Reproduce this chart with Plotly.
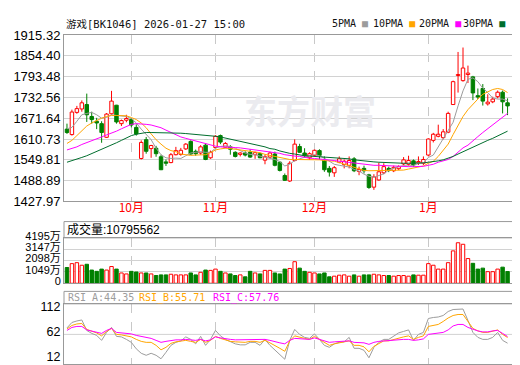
import plotly.graph_objects as go

W, H = 520, 365

# ---------------- data ----------------
month_idx = [13, 30, 50, 73]
month_labels = ['10月', '11月', '12月', '1月']

opens = [1640, 1624, 1689, 1699, 1712, 1677, 1663, 1656, 1616, 1685,
         1710, 1656, 1666, 1668, 1645, 1554, 1609, 1583, 1584, 1559,
         1544, 1542, 1565, 1566, 1582, 1604, 1575, 1570, 1593, 1556,
         1586, 1621, 1587, 1588, 1572, 1566, 1570, 1572, 1565, 1568,
         1549, 1558, 1567, 1543, 1504, 1488, 1548, 1589, 1570, 1556,
         1563, 1577, 1549, 1525, 1512, 1543, 1536, 1534, 1553, 1516,
         1525, 1506, 1470, 1491, 1512, 1525, 1518, 1524, 1538, 1537,
         1547, 1541, 1540, 1564, 1607, 1619, 1615, 1631, 1712, 1797,
         1782, 1800, 1793, 1738, 1759, 1714, 1720, 1735, 1748, 1717]
closes = [1630, 1690, 1700, 1717, 1682, 1668, 1658, 1630, 1684, 1722,
          1661, 1665, 1671, 1652, 1626, 1601, 1575, 1592, 1568, 1521,
          1540, 1565, 1577, 1578, 1596, 1567, 1568, 1588, 1551, 1572,
          1619, 1602, 1598, 1581, 1560, 1570, 1564, 1558, 1571, 1556,
          1559, 1570, 1534, 1519, 1490, 1540, 1596, 1572, 1562, 1568,
          1578, 1563, 1521, 1514, 1527, 1553, 1546, 1548, 1518, 1522,
          1518, 1469, 1500, 1515, 1530, 1519, 1528, 1530, 1550, 1548,
          1535, 1545, 1551, 1611, 1625, 1625, 1632, 1686, 1779, 1800,
          1819, 1804, 1746, 1734, 1722, 1719, 1728, 1748, 1720, 1708]
highs = [1656, 1697, 1708, 1724, 1744, 1691, 1673, 1663, 1687, 1752,
         1711, 1668, 1682, 1672, 1654, 1607, 1617, 1594, 1591, 1565,
         1551, 1570, 1588, 1585, 1599, 1607, 1580, 1593, 1598, 1577,
         1622, 1624, 1602, 1593, 1575, 1572, 1575, 1581, 1574, 1571,
         1565, 1574, 1574, 1546, 1510, 1546, 1610, 1597, 1584, 1572,
         1580, 1581, 1560, 1532, 1532, 1560, 1551, 1560, 1558, 1530,
         1533, 1509, 1508, 1542, 1540, 1530, 1533, 1534, 1558, 1562,
         1551, 1560, 1560, 1613, 1629, 1653, 1640, 1691, 1782, 1866,
         1879, 1826, 1796, 1759, 1772, 1742, 1735, 1753, 1753, 1730]
lows = [1626, 1621, 1685, 1691, 1661, 1656, 1640, 1600, 1614, 1682,
        1656, 1649, 1660, 1645, 1621, 1551, 1568, 1556, 1559, 1520,
        1532, 1540, 1563, 1562, 1579, 1565, 1562, 1565, 1549, 1553,
        1584, 1596, 1584, 1565, 1557, 1560, 1560, 1556, 1553, 1555,
        1537, 1555, 1531, 1516, 1488, 1485, 1545, 1570, 1556, 1550,
        1560, 1551, 1515, 1501, 1500, 1540, 1525, 1525, 1514, 1505,
        1510, 1465, 1462, 1489, 1508, 1514, 1514, 1520, 1534, 1533,
        1530, 1535, 1535, 1560, 1601, 1616, 1610, 1628, 1711, 1747,
        1779, 1775, 1725, 1728, 1709, 1709, 1716, 1730, 1686, 1681]

ma5 = [1641, 1645, 1663, 1682, 1686, 1689, 1682, 1672, 1674, 1682,
       1680, 1679, 1677, 1671, 1658, 1640, 1626, 1609, 1584, 1565,
       1556, 1554, 1555, 1554, 1562, 1570, 1572, 1574, 1572, 1572,
       1584, 1589, 1591, 1589, 1584, 1576, 1570, 1566, 1565, 1561,
       1558, 1556, 1551, 1545, 1532, 1537, 1548, 1553, 1558, 1562,
       1565, 1562, 1555, 1545, 1537, 1534, 1532, 1529, 1522, 1517,
       1508, 1502, 1499, 1504, 1509, 1520, 1526, 1530, 1533, 1532,
       1534, 1539, 1541, 1557, 1564, 1588, 1611, 1632, 1660, 1708,
       1752, 1786, 1790, 1779, 1760, 1747, 1731, 1728, 1728, 1723]
ma10 = [1598, 1607, 1621, 1635, 1649, 1658, 1666, 1672, 1677, 1680,
        1680, 1679, 1679, 1674, 1668, 1658, 1644, 1626, 1609, 1596,
        1584, 1577, 1574, 1567, 1564, 1563, 1564, 1565, 1565, 1571,
        1579, 1582, 1584, 1583, 1581, 1579, 1578, 1576, 1574, 1571,
        1566, 1563, 1560, 1556, 1553, 1551, 1551, 1551, 1551, 1551,
        1551, 1550, 1548, 1547, 1546, 1542, 1537, 1533, 1527, 1523,
        1519, 1518, 1518, 1518, 1518, 1518, 1518, 1519, 1520, 1523,
        1526, 1529, 1532, 1540, 1546, 1560, 1579, 1596, 1624, 1652,
        1677, 1697, 1714, 1728, 1742, 1750, 1756, 1759, 1756, 1747]
ma20 = [1579, 1583, 1588, 1595, 1600, 1606, 1611, 1617, 1623, 1628,
        1634, 1641, 1648, 1654, 1656, 1656, 1654, 1652, 1649, 1644,
        1637, 1630, 1624, 1617, 1613, 1609, 1604, 1600, 1596, 1593,
        1590, 1588, 1588, 1587, 1586, 1585, 1583, 1582, 1581, 1579,
        1577, 1574, 1572, 1569, 1565, 1562, 1561, 1560, 1557, 1555,
        1554, 1553, 1551, 1550, 1548, 1546, 1544, 1543, 1541, 1539,
        1537, 1536, 1534, 1534, 1533, 1533, 1532, 1530, 1530, 1530,
        1530, 1530, 1531, 1534, 1537, 1543, 1546, 1551, 1560, 1574,
        1585, 1593, 1607, 1618, 1630, 1641, 1652, 1663, 1674, 1686]
ma30 = [1543, 1547, 1551, 1557, 1562, 1568, 1575, 1581, 1586, 1593,
        1600, 1607, 1614, 1621, 1625, 1628, 1630, 1630, 1630, 1630,
        1630, 1630, 1630, 1628, 1627, 1626, 1625, 1624, 1622, 1621,
        1619, 1617, 1614, 1610, 1607, 1604, 1602, 1597, 1595, 1591,
        1588, 1583, 1581, 1576, 1572, 1569, 1567, 1564, 1562, 1561,
        1560, 1558, 1557, 1557, 1556, 1555, 1555, 1553, 1550, 1548,
        1547, 1546, 1544, 1543, 1542, 1541, 1541, 1540, 1540, 1540,
        1540, 1541, 1541, 1543, 1544, 1547, 1550, 1554, 1560, 1567,
        1574, 1581, 1588, 1595, 1602, 1607, 1613, 1620, 1627, 1634]

# volume in 万 (10k shares)
volumes = [1455, 1812, 1900, 1663, 1752, 1218, 1099, 1307, 1218, 1544,
           1307, 950, 861, 1099, 1040, 950, 950, 861, 713, 772,
           772, 832, 772, 772, 772, 950, 772, 1010, 1218, 1188,
           1307, 1099, 950, 861, 713, 772, 594, 1099, 950, 861,
           1188, 1188, 950, 861, 1307, 1366, 1990, 1396, 1099, 1010,
           950, 861, 950, 594, 653, 743, 772, 653, 772, 653,
           772, 772, 832, 772, 713, 713, 653, 713, 713, 653,
           772, 743, 743, 1812, 1663, 1307, 1307, 1900, 2990, 3740,
           3600, 2280, 1841, 1307, 1396, 1069, 1069, 1307, 1485, 1079.5562]

rsi_a = [75, 86, 89, 91, 70, 64, 60, 50, 66, 76,
         58, 57, 52, 46, 33, 24, 20, 24, 20, 13,
         26, 40, 46, 49, 57, 52, 43, 58, 40, 52,
         70, 59, 52, 47, 43, 41, 41, 46, 46, 40,
         52, 40, 30, 21, 12, 50, 72, 62, 56, 54,
         63, 52, 40, 36, 43, 46, 47, 56, 34, 34,
         30, 15, 36, 46, 52, 52, 59, 65, 68, 71,
         50, 62, 66, 94, 96, 97, 100, 108, 112, 113,
         113, 90, 66, 56, 52, 52, 56, 66, 50, 44.35]
rsi_b = [73, 80, 83, 84, 72, 68, 65, 59, 68, 74,
         62, 61, 59, 57, 52, 48, 46, 46, 40, 31,
         36, 44, 47, 48, 50, 48, 46, 52, 46, 50,
         58, 54, 51, 48, 47, 46, 46, 48, 48, 46,
         50, 45, 40, 34, 28, 49, 59, 56, 54, 52,
         58, 52, 46, 40, 43, 45, 46, 49, 40, 40,
         37, 27, 38, 44, 49, 49, 52, 55, 57, 59,
         52, 56, 59, 78, 80, 82, 88, 95, 100, 102,
         102, 87, 74, 69, 66, 66, 68, 71, 62, 55.71]
rsi_c = [70, 76, 78, 78, 71, 69, 67, 64, 70, 74,
         66, 65, 64, 63, 60, 58, 56, 54, 50, 46,
         48, 50, 51, 51, 52, 51, 50, 52, 49, 51,
         57, 55, 53, 52, 51, 51, 51, 51, 51, 51,
         52, 50, 47, 45, 43, 50, 54, 53, 52, 52,
         55, 52, 49, 46, 47, 48, 48, 49, 46, 46,
         45, 42, 46, 48, 49, 49, 50, 51, 52, 52,
         50, 51, 53, 62, 63, 64, 66, 71, 79, 82,
         82, 76, 72, 69, 67, 67, 69, 70, 64, 57.76]

price_ticks = [1427.97, 1488.89, 1549.81, 1610.73, 1671.64, 1732.56, 1793.48, 1854.40, 1915.32]
vol_ticks = [0, 1049, 2098, 3147, 4195]
rsi_ticks = [12, 62, 112]

title_text = '游戏[BK1046] 2026-01-27 15:00'
ma_names = ['5PMA', '10PMA', '20PMA', '30PMA']

# ---------------- styling ----------------
RED, GREEN = '#FF0000', '#008000'
C_MA5, C_MA10, C_MA20, C_MA30 = '#9C9C9C', '#FFA500', '#FF00FF', '#006E2E'
BORDER = '#999999'
GRID = '#D2D2D2'
MONO = 'DejaVu Sans Mono, Liberation Mono, Noto Sans CJK SC'
SANS = 'Liberation Sans, Arial, Noto Sans CJK SC'


def fx(px):
    return px / W


def fy(py):
    return 1 - py / H


X0, X1 = 56, 505.5
idx = list(range(len(closes)))
up = [c >= o for o, c in zip(opens, closes)]

fig = go.Figure()

# candle bodies
fig.add_trace(go.Bar(
    x=idx, base=[min(o, c) for o, c in zip(opens, closes)],
    y=[abs(c - o) for o, c in zip(opens, closes)],
    width=0.7,
    marker=dict(color=['white' if u else GREEN for u in up],
                line=dict(color=[RED if u else GREEN for u in up], width=1)),
    xaxis='x', yaxis='y', hoverinfo='skip'))


def wicks(sel):
    xs, ys = [], []
    for i in idx:
        if up[i] != sel:
            continue
        top, bot = max(opens[i], closes[i]), min(opens[i], closes[i])
        xs += [i, i, None, i, i, None]
        ys += [highs[i], top, None, bot, lows[i], None]
    return xs, ys


for sel, col in [(True, RED), (False, GREEN)]:
    wx, wy = wicks(sel)
    fig.add_trace(go.Scatter(x=wx, y=wy, mode='lines', line=dict(color=col, width=1),
                             xaxis='x', yaxis='y', hoverinfo='skip'))

for arr, col in [(ma5, C_MA5), (ma10, C_MA10), (ma20, C_MA20), (ma30, C_MA30)]:
    fig.add_trace(go.Scatter(x=idx, y=arr, mode='lines', line=dict(color=col, width=1),
                             xaxis='x', yaxis='y', hoverinfo='skip'))

# volume
fig.add_trace(go.Bar(
    x=idx, y=volumes, width=0.7,
    marker=dict(color=['white' if u else GREEN for u in up],
                line=dict(color=[RED if u else GREEN for u in up], width=1)),
    xaxis='x2', yaxis='y2', hoverinfo='skip'))

# RSI
for arr, col in [(rsi_a, '#9C9C9C'), (rsi_b, '#FFA500'), (rsi_c, '#FF00FF')]:
    fig.add_trace(go.Scatter(x=idx, y=arr, mode='lines', line=dict(color=col, width=1),
                             xaxis='x3', yaxis='y3', hoverinfo='skip'))

common_x = dict(range=[-0.6, 90.2], tickvals=month_idx, ticktext=month_labels,
                showgrid=True, gridcolor='#C8C8C8', griddash='dash', gridwidth=1,
                zeroline=False, showline=True, linecolor=BORDER, linewidth=1,
                mirror=True, ticks='', fixedrange=True, domain=[fx(X0), fx(X1)])
common_y = dict(showline=True, linecolor=BORDER, linewidth=1, mirror=True, ticks='',
                zeroline=False, gridcolor=GRID, fixedrange=True,
                tickfont=dict(family=SANS, size=13, color='#000'))

fig.update_layout(
    width=W, height=H, margin=dict(l=0, r=0, t=0, b=0),
    paper_bgcolor='white', plot_bgcolor='white', showlegend=False,
    barmode='overlay', hovermode=False,
    font=dict(family=SANS, size=12, color='#000'),
    xaxis=dict(common_x, anchor='y', showticklabels=True,
               tickfont=dict(color='#FF0000', size=12, family='Noto Sans CJK SC'),
               ticklabelstandoff=-5),
    yaxis=dict(common_y, domain=[fy(194), fy(20)], anchor='x',
               range=[price_ticks[0], price_ticks[-1]], tickvals=price_ticks,
               ticktext=[f'{v:.2f}' for v in price_ticks], showgrid=True),
    xaxis2=dict(common_x, anchor='y2', showticklabels=False),
    yaxis2=dict(common_y, domain=[fy(279.5), fy(232)], anchor='x2',
                range=[vol_ticks[0], vol_ticks[-1]], tickvals=vol_ticks,
                ticktext=[f'{v}万' if v else '0' for v in vol_ticks], showgrid=True,
                tickfont=dict(family=SANS, size=11, color='#000'),
                ticklabelshift=-2),
    xaxis3=dict(common_x, anchor='y3', showticklabels=False),
    yaxis3=dict(common_y, domain=[fy(364), fy(301)], anchor='x3',
                range=[2.4, 123.5], tickvals=rsi_ticks,
                ticktext=[str(v) for v in rsi_ticks], showgrid=False,
                tickfont=dict(family=SANS, size=12.5, color='#000'),
                ticklabelshift=-3),
)

shapes = [
    dict(type='rect', xref='paper', yref='paper', x0=fx(X0), x1=fx(X1), y0=fy(232), y1=fy(215),
         line=dict(color=BORDER, width=1), fillcolor='rgba(0,0,0,0)'),
    dict(type='rect', xref='paper', yref='paper', x0=fx(X0), x1=fx(X1), y0=fy(301), y1=fy(288),
         line=dict(color=BORDER, width=1), fillcolor='rgba(0,0,0,0)'),
    dict(type='line', xref='x3 domain', yref='y3', x0=0, x1=1, y0=62, y1=62,
         line=dict(color=GRID, width=1), layer='below'),
]
fig.update_layout(shapes=shapes)

ann = []
# watermark
ann.append(dict(text='<b>东方财富</b>', x=fx(302), y=fy(98), xref='paper', yref='paper',
                showarrow=False, font=dict(family='Noto Sans CJK SC', size=33, color='#EBEBEF'),
                xanchor='center', yanchor='middle'))
# title
ann.append(dict(text=title_text, x=fx(56), y=fy(8), xref='paper', yref='paper', showarrow=False,
                xanchor='left', yanchor='middle', font=dict(family=MONO, size=10.5, color='#111')))
# MA legend
for name, col, xs in zip(ma_names, [C_MA5, C_MA10, C_MA20, C_MA30], [321.5, 363, 409, 453]):
    ann.append(dict(text=f"{name} <span style='color:{col}'>■</span>", x=fx(xs), y=fy(8),
                    xref='paper', yref='paper', showarrow=False, xanchor='left', yanchor='middle',
                    font=dict(family=MONO, size=10, color='#111')))
# volume header
ann.append(dict(text=f'成交量:{int(round(volumes[-1] * 10000))}', x=fx(57), y=fy(223.5),
                xref='paper', yref='paper', showarrow=False, xanchor='left', yanchor='middle',
                font=dict(family=SANS, size=12, color='#000')))
# RSI header
for label, val, col, xs in [('RSI_A', rsi_a[-1], '#9C9C9C', 57.5),
                            ('RSI_B', rsi_b[-1], '#FFA500', 129),
                            ('RSI_C', rsi_c[-1], '#FF00FF', 202.5)]:
    ann.append(dict(text=f'{label}:{val:.2f}', x=fx(xs), y=fy(294.5), xref='paper', yref='paper',
                    showarrow=False, xanchor='left', yanchor='middle',
                    font=dict(family=MONO, size=10, color=col)))
fig.update_layout(annotations=ann)

fig.write_html('out.html')
